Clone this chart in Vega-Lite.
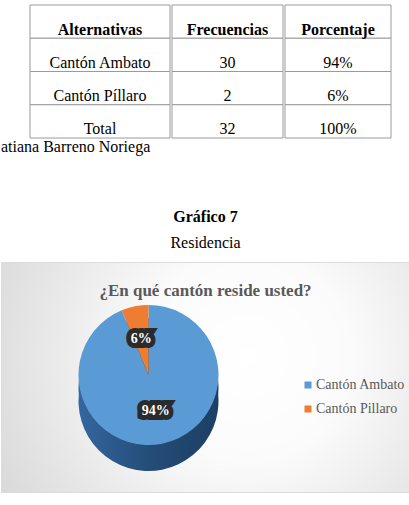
{
  "$schema": "https://vega.github.io/schema/vega-lite/v6.json",
  "background": "white",
  "padding": {"left": 0, "top": 4, "right": 0, "bottom": 0},
  "spacing": 10,
  "config": {
    "view": {"stroke": null},
    "font": "Liberation Serif",
    "text": {"font": "Liberation Serif"},
    "concat": {"spacing": 0}
  },
  "datasets": {
    "tabla": [
      {"fila": 0, "columna": "Alternativas", "texto": "Alternativas"},
      {"fila": 0, "columna": "Frecuencias", "texto": "Frecuencias"},
      {"fila": 0, "columna": "Porcentaje", "texto": "Porcentaje"},
      {"fila": 1, "columna": "Alternativas", "texto": "Cantón Ambato"},
      {"fila": 1, "columna": "Frecuencias", "texto": "30"},
      {"fila": 1, "columna": "Porcentaje", "texto": "94%"},
      {"fila": 2, "columna": "Alternativas", "texto": "Cantón Píllaro"},
      {"fila": 2, "columna": "Frecuencias", "texto": "2"},
      {"fila": 2, "columna": "Porcentaje", "texto": "6%"},
      {"fila": 3, "columna": "Alternativas", "texto": "Total"},
      {"fila": 3, "columna": "Frecuencias", "texto": "32"},
      {"fila": 3, "columna": "Porcentaje", "texto": "100%"}
    ],
    "pie": [
      {"canton": "Cantón Ambato", "valor": 30, "etiqueta": "94%"},
      {"canton": "Cantón Pillaro", "valor": 2, "etiqueta": "6%"}
    ]
  },
  "vconcat": [
    {
      "title": {"text": "atiana Barreno Noriega", "orient": "bottom", "anchor": "start", "font": "Liberation Serif", "fontSize": 16, "fontWeight": "normal", "color": "black", "offset": 0},
      "spacing": 0,
      "hconcat": [
        {"width": 28, "height": 133, "view": {"fill": "white"}, "data": {"values": []}, "mark": "point"},
        {
          "width": 140, "height": 133,
          "data": {"name": "tabla"},
          "transform": [{"filter": "datum.columna === 'Alternativas'"}],
          "encoding": {"y": {"field": "fila", "type": "ordinal", "axis": null, "scale": {"paddingInner": 0, "paddingOuter": 0}}},
          "layer": [
            {"mark": {"type": "rect", "fill": "white", "stroke": "#9a9a9a", "strokeWidth": 1}},
            {"transform": [{"filter": "datum.fila === 0"}], "mark": {"type": "text", "font": "Liberation Serif", "fontSize": 16, "fontWeight": "bold", "dy": 8, "color": "black"}, "encoding": {"text": {"field": "texto"}}},
            {"transform": [{"filter": "datum.fila > 0"}], "mark": {"type": "text", "font": "Liberation Serif", "fontSize": 16, "fontWeight": "normal", "dy": 8, "color": "black"}, "encoding": {"text": {"field": "texto"}}}
          ]
        },
        {
          "width": 111, "height": 133,
          "data": {"name": "tabla"},
          "transform": [{"filter": "datum.columna === 'Frecuencias'"}],
          "encoding": {"y": {"field": "fila", "type": "ordinal", "axis": null, "scale": {"paddingInner": 0, "paddingOuter": 0}}},
          "layer": [
            {"mark": {"type": "rect", "fill": "white", "stroke": "#9a9a9a", "strokeWidth": 1}},
            {"transform": [{"filter": "datum.fila === 0"}], "mark": {"type": "text", "font": "Liberation Serif", "fontSize": 16, "fontWeight": "bold", "dy": 8, "color": "black"}, "encoding": {"text": {"field": "texto"}}},
            {"transform": [{"filter": "datum.fila > 0"}], "mark": {"type": "text", "font": "Liberation Serif", "fontSize": 16, "fontWeight": "normal", "dy": 8, "color": "black"}, "encoding": {"text": {"field": "texto"}}}
          ]
        },
        {
          "width": 106, "height": 133,
          "data": {"name": "tabla"},
          "transform": [{"filter": "datum.columna === 'Porcentaje'"}],
          "encoding": {"y": {"field": "fila", "type": "ordinal", "axis": null, "scale": {"paddingInner": 0, "paddingOuter": 0}}},
          "layer": [
            {"mark": {"type": "rect", "fill": "white", "stroke": "#9a9a9a", "strokeWidth": 1}},
            {"transform": [{"filter": "datum.fila === 0"}], "mark": {"type": "text", "font": "Liberation Serif", "fontSize": 16, "fontWeight": "bold", "dy": 8, "color": "black"}, "encoding": {"text": {"field": "texto"}}},
            {"transform": [{"filter": "datum.fila > 0"}], "mark": {"type": "text", "font": "Liberation Serif", "fontSize": 16, "fontWeight": "normal", "dy": 8, "color": "black"}, "encoding": {"text": {"field": "texto"}}}
          ]
        }
      ]
    },
    {
      "width": 409, "height": 1,
      "view": {"fill": "white"},
      "data": {"values": []},
      "mark": "point",
      "title": {"text": "Gráfico 7", "subtitle": "Residencia", "orient": "bottom", "anchor": "middle", "offset": 43, "font": "Liberation Serif", "fontSize": 16, "fontWeight": "bold", "color": "black", "subtitleFont": "Liberation Serif", "subtitleFontSize": 16, "subtitleColor": "black", "subtitlePadding": 10}
    },
    {
      "width": 409, "height": 230,
      "view": {
        "fill": {"gradient": "radial", "x1": 0.6, "y1": 0.45, "x2": 0.6, "y2": 0.45, "r1": 0, "r2": 0.72,
                 "stops": [{"offset": 0, "color": "#ffffff"}, {"offset": 0.35, "color": "#fbfbfb"}, {"offset": 1, "color": "#d6d6d6"}]},
        "stroke": "#dcdcdc"
      },
      "data": {"name": "pie"},
      "title": {"text": "¿En qué cantón reside usted?", "offset": -38, "anchor": "middle", "font": "Liberation Serif", "fontSize": 17, "fontWeight": "bold", "color": "#595959"},
      "encoding": {
        "theta": {"field": "valor", "type": "quantitative", "stack": true},
        "order": {"field": "valor", "type": "quantitative", "sort": "descending"}
      },
      "layer": [
        {"mark": {"type": "arc", "radius": 70, "xOffset": -57, "yOffset": 24,
          "fill": {"gradient": "linear", "x1": 0, "y1": 0, "x2": 1, "y2": 0, "stops": [{"offset": 0, "color": "#3566a0"}, {"offset": 0.5, "color": "#244d78"}, {"offset": 1, "color": "#1d3f63"}]}}},
        {"mark": {"type": "arc", "radius": 70, "xOffset": -57, "yOffset": 11,
          "fill": {"gradient": "linear", "x1": 0, "y1": 0, "x2": 1, "y2": 0, "stops": [{"offset": 0, "color": "#3566a0"}, {"offset": 0.5, "color": "#244d78"}, {"offset": 1, "color": "#1d3f63"}]}}},
        {
          "mark": {"type": "arc", "radius": 70, "xOffset": -57, "yOffset": -2},
          "encoding": {
            "color": {"field": "canton", "type": "nominal",
              "scale": {"domain": ["Cantón Ambato", "Cantón Pillaro"], "range": ["#5b9bd5", "#ed7d31"]},
              "legend": {"title": null, "orient": "none", "legendX": 300, "legendY": 373, "symbolType": "square", "symbolSize": 49, "symbolStrokeWidth": 0, "labelFont": "Liberation Serif", "labelFontSize": 14, "labelColor": "#595959", "labelOffset": 1, "rowPadding": 10}}
          }
        },
        {
          "mark": {"type": "text", "radius": 37, "xOffset": -57, "yOffset": -2, "font": "Liberation Serif", "fontSize": 14, "fontWeight": "bold", "fill": "#2b2b2b", "stroke": "#2b2b2b", "strokeWidth": 10, "strokeJoin": "miter"},
          "encoding": {"text": {"field": "etiqueta"}}
        },
        {
          "mark": {"type": "text", "radius": 37, "xOffset": -57, "yOffset": -2, "font": "Liberation Serif", "fontSize": 14, "fontWeight": "bold", "fill": "white"},
          "encoding": {"text": {"field": "etiqueta"}}
        }
      ]
    }
  ]
}
